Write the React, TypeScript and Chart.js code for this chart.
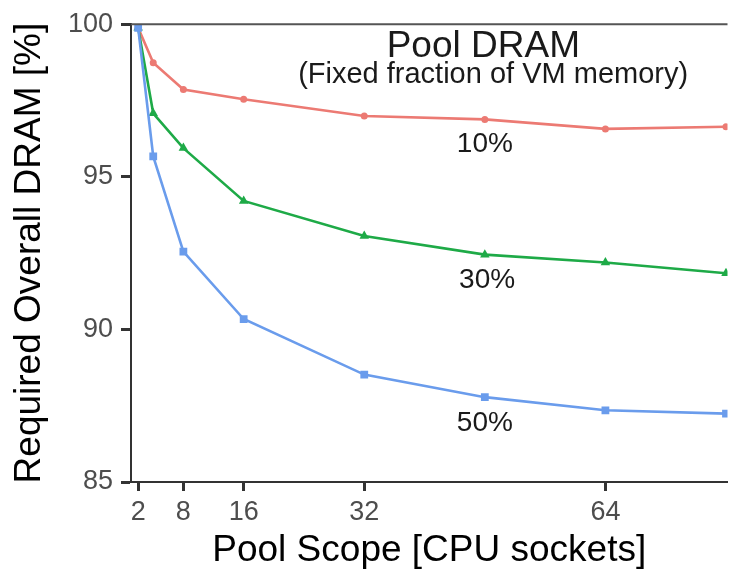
import React, { useEffect, useRef } from 'react';
import { Chart, registerables } from 'chart.js';

Chart.register(...registerables);

// ---- data ----
const SCOPE = [2, 4, 8, 16, 32, 48, 64, 80];
const DRAM_10 = [99.88, 98.74, 97.86, 97.54, 96.99, 96.88, 96.57, 96.64];
const DRAM_30 = [99.88, 97.08, 95.94, 94.21, 93.06, 92.45, 92.19, 91.84];
const DRAM_50 = [99.88, 95.67, 92.55, 90.34, 88.52, 87.78, 87.35, 87.24];
const SERIES_LABELS = ['10%', '30%', '50%'];
const X_TICKS = [2, 8, 16, 32, 64];
const Y_TICKS = [85, 90, 95, 100];
const X_TITLE = 'Pool Scope [CPU sockets]';
const Y_TITLE = 'Required Overall DRAM [%]';
const PANEL_TITLE = 'Pool DRAM';
const PANEL_SUBTITLE = '(Fixed fraction of VM memory)';

// annotation anchors in data coordinates
const LABEL_POS = [
  [48, 96.07],
  [48.3, 91.61],
  [48, 86.92],
];
const TITLE_POS = [47.8, 99.26];
const SUBTITLE_POS = [49.1, 98.32];

const FONT = '"Liberation Sans", Arial, Helvetica, sans-serif';
const COLORS = ['#EC7A73', '#1EAA47', '#6A9CEC'];

const annotationPlugin = {
  id: 'annotations',
  afterDraw(chart: any) {
    const { ctx, chartArea, scales } = chart;
    const xs = scales.x;
    const ys = scales.y;
    ctx.save();
    // panel top border
    ctx.strokeStyle = '#555555';
    ctx.lineWidth = 2;
    ctx.beginPath();
    ctx.moveTo(chartArea.left, chartArea.top);
    ctx.lineTo(chartArea.right, chartArea.top);
    ctx.stroke();

    ctx.textAlign = 'center';
    ctx.textBaseline = 'middle';
    ctx.fillStyle = '#1a1a1a';
    ctx.font = `37px ${FONT}`;
    ctx.fillText(PANEL_TITLE, xs.getPixelForValue(TITLE_POS[0]), ys.getPixelForValue(TITLE_POS[1]));
    ctx.font = `29px ${FONT}`;
    ctx.fillText(PANEL_SUBTITLE, xs.getPixelForValue(SUBTITLE_POS[0]), ys.getPixelForValue(SUBTITLE_POS[1]));
    ctx.font = `28px ${FONT}`;
    SERIES_LABELS.forEach((t, i) => {
      ctx.fillText(t, xs.getPixelForValue(LABEL_POS[i][0]), ys.getPixelForValue(LABEL_POS[i][1]));
    });
    ctx.restore();
  },
};

export default function App() {
  const ref = useRef<HTMLCanvasElement | null>(null);

  useEffect(() => {
    if (!ref.current) return;
    const series = [DRAM_10, DRAM_30, DRAM_50];
    const styles = ['circle', 'triangle', 'rect'];
    const radii = [3.5, 5.5, 5.5];
    const chart = new Chart(ref.current, {
      type: 'line',
      data: {
        datasets: series.map((vals, i) => ({
          label: SERIES_LABELS[i],
          data: SCOPE.map((x, j) => ({ x, y: vals[j] })),
          borderColor: COLORS[i],
          backgroundColor: COLORS[i],
          borderWidth: 2.6,
          pointStyle: styles[i] as any,
          pointRadius: radii[i],
          pointBorderWidth: 0,
          pointBackgroundColor: COLORS[i],
          tension: 0,
          order: 3 - i,
        })),
      },
      options: {
        animation: false,
        responsive: true,
        maintainAspectRatio: false,
        layout: { padding: { top: 20.3, right: 0, left: 0, bottom: 0 } },
        plugins: { legend: { display: false }, tooltip: { enabled: false } },
        scales: {
          x: {
            type: 'linear',
            min: 1.05,
            max: 80.2,
            afterBuildTicks: (s: any) => {
              s.ticks = X_TICKS.map((v) => ({ value: v }));
            },
            afterFit: (s: any) => {
              s.height = 92;
            },
            grid: {
              display: true,
              drawOnChartArea: false,
              drawTicks: true,
              tickLength: 9,
              tickWidth: 3,
              tickColor: '#333333',
              color: '#333333',
            },
            border: { display: true, color: '#333333', width: 2 },
            ticks: {
              color: '#4d4d4d',
              font: { family: FONT, size: 27 },
              padding: 5,
              maxRotation: 0,
              autoSkip: false,
            },
            title: {
              display: true,
              text: X_TITLE,
              color: '#000000',
              font: { family: FONT, size: 37 },
              padding: { top: 0, bottom: 1 },
            },
          },
          y: {
            type: 'linear',
            min: 85,
            max: 100,
            afterBuildTicks: (s: any) => {
              s.ticks = Y_TICKS.map((v) => ({ value: v }));
            },
            afterFit: (s: any) => {
              s.width = 131;
            },
            grid: {
              display: true,
              drawOnChartArea: false,
              drawTicks: true,
              tickLength: 10,
              tickWidth: 3,
              tickColor: '#333333',
              color: '#333333',
            },
            border: { display: true, color: '#333333', width: 2 },
            ticks: {
              color: '#4d4d4d',
              font: { family: FONT, size: 27 },
              padding: 8,
            },
            title: {
              display: true,
              text: Y_TITLE,
              color: '#000000',
              font: { family: FONT, size: 37 },
              padding: { top: 8, bottom: 0 },
            },
          },
        },
      },
      plugins: [annotationPlugin],
    });
    return () => chart.destroy();
  }, []);

  return (
    <div style={{ position: 'absolute', left: 0, top: 0, width: 733, height: 574, background: '#ffffff' }}>
      <canvas ref={ref} />
    </div>
  );
}
